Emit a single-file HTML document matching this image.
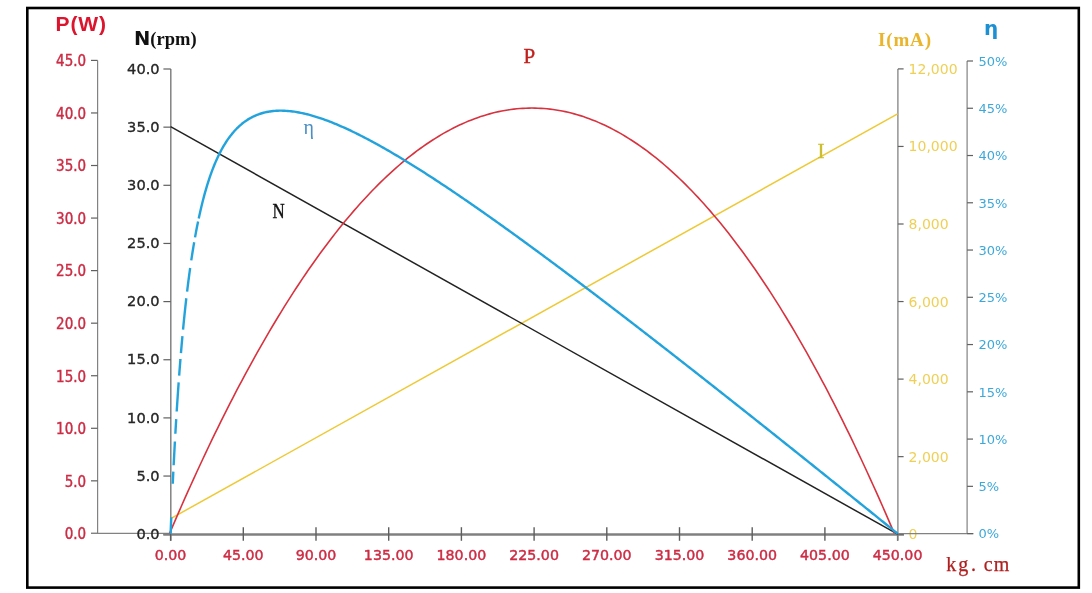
<!DOCTYPE html>
<html><head><meta charset="utf-8"><title>Motor performance curve</title><style>
html,body{margin:0;padding:0;background:#fff;}
svg{display:block;}
text{font-family:"DejaVu Sans","Liberation Sans",sans-serif;}
.pl{font-family:"DejaVu Sans Condensed","DejaVu Sans",sans-serif;font-size:15px;fill:#cc2c44;text-anchor:end;stroke:#cc2c44;stroke-width:0.4px;}
.nl{font-size:14.6px;fill:#262626;text-anchor:end;stroke:#262626;stroke-width:0.35px;}
.xl{font-size:14.2px;fill:#cc2c44;text-anchor:middle;stroke:#cc2c44;stroke-width:0.45px;}
.il{font-size:14px;fill:#efd055;}
.el{font-size:13px;fill:#3ca8da;}
.tP{font-family:"Liberation Sans",sans-serif;font-weight:bold;font-size:21px;fill:#dc142e;letter-spacing:0.9px;}
.tN{font-family:"DejaVu Sans",sans-serif;font-weight:bold;font-size:19.5px;fill:#111;}
.ser{font-family:"Liberation Serif",serif;font-weight:bold;font-size:18.5px;}
.tI{font-family:"Liberation Serif",serif;font-weight:bold;font-size:19px;fill:#eab52a;}
.tE{font-family:"DejaVu Sans",sans-serif;font-weight:bold;font-size:20px;fill:#1d8fd3;}
.cl{font-family:"Liberation Serif",serif;font-size:20px;stroke-width:0.35px;}
.kg{font-family:"Liberation Serif",serif;font-size:20px;fill:#b02020;text-anchor:middle;stroke:#b02020;stroke-width:0.25px;}
</style></head>
<body><svg width="1092" height="593" viewBox="0 0 1092 593">
<rect x="27.3" y="8" width="1051.5" height="579.6" fill="none" stroke="#000" stroke-width="2.6"/>
<line x1="97.6" y1="60.4" x2="97.6" y2="533.4" stroke="#828282" stroke-width="1.2"/>
<line x1="91" y1="533.40" x2="97.6" y2="533.40" stroke="#606060" stroke-width="1.2"/>
<text x="86.1" y="539.20" class="pl">0.0</text>
<line x1="91" y1="480.84" x2="97.6" y2="480.84" stroke="#606060" stroke-width="1.2"/>
<text x="86.1" y="486.64" class="pl">5.0</text>
<line x1="91" y1="428.29" x2="97.6" y2="428.29" stroke="#606060" stroke-width="1.2"/>
<text x="86.1" y="434.09" class="pl">10.0</text>
<line x1="91" y1="375.73" x2="97.6" y2="375.73" stroke="#606060" stroke-width="1.2"/>
<text x="86.1" y="381.53" class="pl">15.0</text>
<line x1="91" y1="323.18" x2="97.6" y2="323.18" stroke="#606060" stroke-width="1.2"/>
<text x="86.1" y="328.98" class="pl">20.0</text>
<line x1="91" y1="270.62" x2="97.6" y2="270.62" stroke="#606060" stroke-width="1.2"/>
<text x="86.1" y="276.42" class="pl">25.0</text>
<line x1="91" y1="218.07" x2="97.6" y2="218.07" stroke="#606060" stroke-width="1.2"/>
<text x="86.1" y="223.87" class="pl">30.0</text>
<line x1="91" y1="165.51" x2="97.6" y2="165.51" stroke="#606060" stroke-width="1.2"/>
<text x="86.1" y="171.31" class="pl">35.0</text>
<line x1="91" y1="112.96" x2="97.6" y2="112.96" stroke="#606060" stroke-width="1.2"/>
<text x="86.1" y="118.76" class="pl">40.0</text>
<line x1="91" y1="60.40" x2="97.6" y2="60.40" stroke="#606060" stroke-width="1.2"/>
<text x="86.1" y="66.20" class="pl">45.0</text>
<line x1="91" y1="533.4" x2="170.6" y2="533.4" stroke="#828282" stroke-width="1.2"/>
<line x1="170.8" y1="69.0" x2="170.8" y2="540.8" stroke="#828282" stroke-width="1.5"/>
<line x1="163.4" y1="534.20" x2="170.8" y2="534.20" stroke="#606060" stroke-width="1.2"/>
<text x="159.6" y="538.90" class="nl">0.0</text>
<line x1="163.4" y1="476.05" x2="170.8" y2="476.05" stroke="#606060" stroke-width="1.2"/>
<text x="159.6" y="480.75" class="nl">5.0</text>
<line x1="163.4" y1="417.90" x2="170.8" y2="417.90" stroke="#606060" stroke-width="1.2"/>
<text x="159.6" y="422.60" class="nl">10.0</text>
<line x1="163.4" y1="359.75" x2="170.8" y2="359.75" stroke="#606060" stroke-width="1.2"/>
<text x="159.6" y="364.45" class="nl">15.0</text>
<line x1="163.4" y1="301.60" x2="170.8" y2="301.60" stroke="#606060" stroke-width="1.2"/>
<text x="159.6" y="306.30" class="nl">20.0</text>
<line x1="163.4" y1="243.45" x2="170.8" y2="243.45" stroke="#606060" stroke-width="1.2"/>
<text x="159.6" y="248.15" class="nl">25.0</text>
<line x1="163.4" y1="185.30" x2="170.8" y2="185.30" stroke="#606060" stroke-width="1.2"/>
<text x="159.6" y="190.00" class="nl">30.0</text>
<line x1="163.4" y1="127.15" x2="170.8" y2="127.15" stroke="#606060" stroke-width="1.2"/>
<text x="159.6" y="131.85" class="nl">35.0</text>
<line x1="163.4" y1="69.00" x2="170.8" y2="69.00" stroke="#606060" stroke-width="1.2"/>
<text x="159.6" y="73.70" class="nl">40.0</text>
<line x1="163.3" y1="534.45" x2="904" y2="534.45" stroke="#808080" stroke-width="2.5"/>
<line x1="170.60" y1="534" x2="170.60" y2="540.8" stroke="#5e5e5e" stroke-width="1.4"/>
<text x="170.60" y="559.8" class="xl">0.00</text>
<line x1="243.30" y1="527.2" x2="243.30" y2="540.8" stroke="#5e5e5e" stroke-width="1.4"/>
<text x="243.30" y="559.8" class="xl">45.00</text>
<line x1="316.00" y1="527.2" x2="316.00" y2="540.8" stroke="#5e5e5e" stroke-width="1.4"/>
<text x="316.00" y="559.8" class="xl">90.00</text>
<line x1="388.70" y1="527.2" x2="388.70" y2="540.8" stroke="#5e5e5e" stroke-width="1.4"/>
<text x="388.70" y="559.8" class="xl">135.00</text>
<line x1="461.40" y1="527.2" x2="461.40" y2="540.8" stroke="#5e5e5e" stroke-width="1.4"/>
<text x="461.40" y="559.8" class="xl">180.00</text>
<line x1="534.10" y1="527.2" x2="534.10" y2="540.8" stroke="#5e5e5e" stroke-width="1.4"/>
<text x="534.10" y="559.8" class="xl">225.00</text>
<line x1="606.80" y1="527.2" x2="606.80" y2="540.8" stroke="#5e5e5e" stroke-width="1.4"/>
<text x="606.80" y="559.8" class="xl">270.00</text>
<line x1="679.50" y1="527.2" x2="679.50" y2="540.8" stroke="#5e5e5e" stroke-width="1.4"/>
<text x="679.50" y="559.8" class="xl">315.00</text>
<line x1="752.20" y1="527.2" x2="752.20" y2="540.8" stroke="#5e5e5e" stroke-width="1.4"/>
<text x="752.20" y="559.8" class="xl">360.00</text>
<line x1="824.90" y1="527.2" x2="824.90" y2="540.8" stroke="#5e5e5e" stroke-width="1.4"/>
<text x="824.90" y="559.8" class="xl">405.00</text>
<line x1="897.60" y1="534" x2="897.60" y2="540.8" stroke="#5e5e5e" stroke-width="1.4"/>
<text x="897.60" y="559.8" class="xl">450.00</text>
<line x1="897.9" y1="68.9" x2="897.9" y2="540.5" stroke="#828282" stroke-width="1.3"/>
<line x1="897.9" y1="534.20" x2="903.6" y2="534.20" stroke="#606060" stroke-width="1.2"/>
<text x="908.6" y="539.20" class="il">0</text>
<line x1="897.9" y1="456.65" x2="903.6" y2="456.65" stroke="#606060" stroke-width="1.2"/>
<text x="908.6" y="461.65" class="il">2,000</text>
<line x1="897.9" y1="379.10" x2="903.6" y2="379.10" stroke="#606060" stroke-width="1.2"/>
<text x="908.6" y="384.10" class="il">4,000</text>
<line x1="897.9" y1="301.55" x2="903.6" y2="301.55" stroke="#606060" stroke-width="1.2"/>
<text x="908.6" y="306.55" class="il">6,000</text>
<line x1="897.9" y1="224.00" x2="903.6" y2="224.00" stroke="#606060" stroke-width="1.2"/>
<text x="908.6" y="229.00" class="il">8,000</text>
<line x1="897.9" y1="146.45" x2="903.6" y2="146.45" stroke="#606060" stroke-width="1.2"/>
<text x="908.6" y="151.45" class="il">10,000</text>
<line x1="897.9" y1="68.90" x2="903.6" y2="68.90" stroke="#606060" stroke-width="1.2"/>
<text x="908.6" y="73.90" class="il">12,000</text>
<line x1="967.1" y1="61.0" x2="967.1" y2="533.6" stroke="#828282" stroke-width="1.2"/>
<line x1="897.9" y1="533.6" x2="973.5" y2="533.6" stroke="#828282" stroke-width="1.2"/>
<line x1="967.1" y1="533.60" x2="973" y2="533.60" stroke="#606060" stroke-width="1.2"/>
<text x="978.4" y="538.40" class="el">0%</text>
<line x1="967.1" y1="486.34" x2="973" y2="486.34" stroke="#606060" stroke-width="1.2"/>
<text x="978.4" y="491.14" class="el">5%</text>
<line x1="967.1" y1="439.08" x2="973" y2="439.08" stroke="#606060" stroke-width="1.2"/>
<text x="978.4" y="443.88" class="el">10%</text>
<line x1="967.1" y1="391.82" x2="973" y2="391.82" stroke="#606060" stroke-width="1.2"/>
<text x="978.4" y="396.62" class="el">15%</text>
<line x1="967.1" y1="344.56" x2="973" y2="344.56" stroke="#606060" stroke-width="1.2"/>
<text x="978.4" y="349.36" class="el">20%</text>
<line x1="967.1" y1="297.30" x2="973" y2="297.30" stroke="#606060" stroke-width="1.2"/>
<text x="978.4" y="302.10" class="el">25%</text>
<line x1="967.1" y1="250.04" x2="973" y2="250.04" stroke="#606060" stroke-width="1.2"/>
<text x="978.4" y="254.84" class="el">30%</text>
<line x1="967.1" y1="202.78" x2="973" y2="202.78" stroke="#606060" stroke-width="1.2"/>
<text x="978.4" y="207.58" class="el">35%</text>
<line x1="967.1" y1="155.52" x2="973" y2="155.52" stroke="#606060" stroke-width="1.2"/>
<text x="978.4" y="160.32" class="el">40%</text>
<line x1="967.1" y1="108.26" x2="973" y2="108.26" stroke="#606060" stroke-width="1.2"/>
<text x="978.4" y="113.06" class="el">45%</text>
<line x1="967.1" y1="61.00" x2="973" y2="61.00" stroke="#606060" stroke-width="1.2"/>
<text x="978.4" y="65.80" class="el">50%</text>
<line x1="170.60" y1="518.69" x2="897.60" y2="113.88" stroke="#eec935" stroke-width="1.5"/>
<line x1="170.60" y1="126.55" x2="897.60" y2="534.2" stroke="#222" stroke-width="1.5"/>
<path d="M169.60,533.40 L172.62,526.34 L175.64,519.34 L178.66,512.40 L181.68,505.52 L184.70,498.69 L187.72,491.93 L190.74,485.23 L193.76,478.58 L196.78,471.99 L199.80,465.47 L202.82,459.00 L205.83,452.59 L208.85,446.24 L211.87,439.95 L214.89,433.71 L217.91,427.54 L220.93,421.43 L223.95,415.37 L226.97,409.38 L229.99,403.44 L233.01,397.56 L236.03,391.74 L239.05,385.98 L242.07,380.28 L245.09,374.64 L248.11,369.06 L251.13,363.54 L254.15,358.07 L257.17,352.67 L260.19,347.32 L263.21,342.03 L266.23,336.81 L269.25,331.64 L272.27,326.53 L275.29,321.48 L278.30,316.48 L281.32,311.55 L284.34,306.68 L287.36,301.86 L290.38,297.11 L293.40,292.41 L296.42,287.77 L299.44,283.20 L302.46,278.68 L305.48,274.22 L308.50,269.82 L311.52,265.47 L314.54,261.19 L317.56,256.97 L320.58,252.80 L323.60,248.70 L326.62,244.65 L329.64,240.66 L332.66,236.74 L335.68,232.87 L338.70,229.06 L341.72,225.31 L344.74,221.61 L347.76,217.98 L350.77,214.41 L353.79,210.89 L356.81,207.44 L359.83,204.04 L362.85,200.70 L365.87,197.42 L368.89,194.20 L371.91,191.04 L374.93,187.94 L377.95,184.90 L380.97,181.92 L383.99,178.99 L387.01,176.13 L390.03,173.32 L393.05,170.57 L396.07,167.89 L399.09,165.26 L402.11,162.69 L405.13,160.18 L408.15,157.73 L411.17,155.33 L414.19,153.00 L417.21,150.73 L420.23,148.51 L423.25,146.35 L426.26,144.26 L429.28,142.22 L432.30,140.24 L435.32,138.32 L438.34,136.46 L441.36,134.66 L444.38,132.91 L447.40,131.23 L450.42,129.61 L453.44,128.04 L456.46,126.54 L459.48,125.09 L462.50,123.70 L465.52,122.37 L468.54,121.10 L471.56,119.89 L474.58,118.74 L477.60,117.64 L480.62,116.61 L483.64,115.64 L486.66,114.72 L489.68,113.86 L492.70,113.07 L495.71,112.33 L498.73,111.65 L501.75,111.03 L504.77,110.47 L507.79,109.97 L510.81,109.52 L513.83,109.14 L516.85,108.81 L519.87,108.55 L522.89,108.34 L525.91,108.19 L528.93,108.10 L531.95,108.07 L534.97,108.10 L537.99,108.19 L541.01,108.34 L544.03,108.55 L547.05,108.81 L550.07,109.14 L553.09,109.52 L556.11,109.97 L559.13,110.47 L562.15,111.03 L565.17,111.65 L568.18,112.33 L571.20,113.07 L574.22,113.86 L577.24,114.72 L580.26,115.64 L583.28,116.61 L586.30,117.64 L589.32,118.74 L592.34,119.89 L595.36,121.10 L598.38,122.37 L601.40,123.70 L604.42,125.09 L607.44,126.54 L610.46,128.04 L613.48,129.61 L616.50,131.23 L619.52,132.91 L622.54,134.66 L625.56,136.46 L628.58,138.32 L631.60,140.24 L634.62,142.22 L637.64,144.26 L640.65,146.35 L643.67,148.51 L646.69,150.73 L649.71,153.00 L652.73,155.33 L655.75,157.73 L658.77,160.18 L661.79,162.69 L664.81,165.26 L667.83,167.89 L670.85,170.57 L673.87,173.32 L676.89,176.13 L679.91,178.99 L682.93,181.92 L685.95,184.90 L688.97,187.94 L691.99,191.04 L695.01,194.20 L698.03,197.42 L701.05,200.70 L704.07,204.04 L707.09,207.44 L710.11,210.89 L713.12,214.41 L716.14,217.98 L719.16,221.61 L722.18,225.31 L725.20,229.06 L728.22,232.87 L731.24,236.74 L734.26,240.66 L737.28,244.65 L740.30,248.70 L743.32,252.80 L746.34,256.97 L749.36,261.19 L752.38,265.47 L755.40,269.82 L758.42,274.22 L761.44,278.68 L764.46,283.20 L767.48,287.77 L770.50,292.41 L773.52,297.11 L776.54,301.86 L779.56,306.68 L782.58,311.55 L785.60,316.48 L788.61,321.48 L791.63,326.53 L794.65,331.64 L797.67,336.81 L800.69,342.03 L803.71,347.32 L806.73,352.67 L809.75,358.07 L812.77,363.54 L815.79,369.06 L818.81,374.64 L821.83,380.28 L824.85,385.98 L827.87,391.74 L830.89,397.56 L833.91,403.44 L836.93,409.38 L839.95,415.37 L842.97,421.43 L845.99,427.54 L849.01,433.71 L852.03,439.95 L855.05,446.24 L858.06,452.59 L861.08,459.00 L864.10,465.47 L867.12,471.99 L870.14,478.58 L873.16,485.23 L876.18,491.93 L879.20,498.69 L882.22,505.52 L885.24,512.40 L888.26,519.34 L891.28,526.34 L894.30,533.40" fill="none" stroke="#d8323e" stroke-width="1.6"/>
<path d="M170.60,533.60 L170.66,531.97 L170.73,530.34 L170.79,528.73 L170.86,527.12 L170.92,525.52 L170.99,523.93 L171.05,522.35 L171.12,520.78 L171.18,519.21 L171.25,517.66 L171.26,517.27 M172.75,483.75 L172.83,482.05 L172.91,480.35 L172.99,478.66 L173.07,476.99 L173.15,475.32 L173.23,473.67 L173.31,472.02 L173.33,471.69 M173.65,465.23 L173.73,463.64 L173.81,462.05 L173.90,460.48 L173.98,458.92 L174.06,457.37 L174.14,455.83 L174.22,454.29 L174.30,452.77 L174.38,451.25 L174.46,449.75 L174.56,447.95 L174.66,446.17 L174.75,444.40 L174.85,442.64 L174.91,441.48 M175.35,433.77 L175.45,432.09 L175.54,430.42 L175.64,428.76 L175.74,427.12 L175.83,425.48 L175.93,423.86 L176.03,422.25 L176.13,420.65 L176.22,419.06 M176.69,411.53 L176.79,410.00 L176.88,408.49 L176.98,406.98 L177.09,405.23 L177.21,403.50 L177.32,401.79 L177.43,400.08 L177.55,398.39 L177.66,396.71 L177.77,395.05 L177.89,393.39 L178.00,391.75 L178.11,390.13 L178.23,388.51 L178.34,386.91 L178.45,385.32 L178.56,383.74 L178.66,382.40 M179.16,375.59 L179.28,374.08 L179.40,372.37 L179.53,370.68 L179.66,369.00 L179.79,367.33 L179.92,365.68 L180.05,364.04 L180.18,362.42 L180.31,360.81 L180.44,359.21 L180.45,359.01 M180.94,353.14 L181.07,351.60 L181.20,350.07 L181.33,348.56 L181.46,347.06 L181.60,345.39 L181.75,343.73 L181.89,342.09 L182.04,340.46 L182.18,338.84 L182.33,337.24 L182.43,336.18 M183.04,329.62 L183.19,328.10 L183.33,326.59 L183.48,325.09 L183.64,323.45 L183.80,321.82 L183.96,320.20 L184.12,318.60 L184.28,317.02 L184.45,315.45 L184.61,313.89 L184.77,312.35 L184.93,310.82 L185.09,309.31 L185.25,307.81 L185.43,306.17 L185.61,304.56 L185.79,302.95 L185.96,301.37 L186.14,299.80 L186.32,298.24 M187.09,291.64 L187.29,290.03 L187.48,288.43 L187.68,286.86 L187.87,285.30 L188.06,283.76 L188.26,282.23 L188.45,280.72 L188.65,279.22 L188.86,277.62 L189.07,276.03 L189.28,274.46 L189.49,272.91 L189.70,271.38 L189.91,269.86 L190.12,268.36 L190.16,268.01 M191.26,260.44 L191.49,258.93 L191.72,257.44 L191.96,255.86 L192.20,254.30 L192.44,252.75 L192.68,251.23 L192.93,249.73 L193.17,248.24 L193.43,246.67 L193.69,245.12 L193.94,243.60 L194.19,242.18 M195.03,237.40 L195.30,235.88 L195.58,234.37 L195.85,232.89 L196.14,231.34 L196.43,229.81 L196.72,228.30 L197.01,226.81 L197.32,225.27 L197.63,223.74 L197.94,222.23 L198.08,221.53 M198.73,218.44 L199.05,216.94 L199.37,215.45 L199.71,213.91 L200.05,212.40 L200.39,210.91 L200.73,209.44 L201.09,207.92 L201.44,206.43 L201.80,204.96 L202.17,203.45 L202.54,201.96 L202.91,200.50 L203.31,198.94 L203.72,197.40 L204.12,195.89 L204.53,194.40 L204.93,192.94 L205.74,190.10 L206.55,187.35 L207.35,184.69 L208.16,182.11 L208.97,179.63 L209.78,177.22 L210.58,174.89 L211.39,172.63 L212.20,170.45 L213.01,168.34 L213.82,166.29 L214.62,164.31 L215.43,162.39 L216.24,160.54 L217.05,158.74 L217.85,156.99 L218.66,155.30 L219.47,153.66 L220.28,152.08 L221.09,150.54 L221.89,149.05 L222.70,147.61 L223.51,146.21 L224.32,144.85 L225.12,143.54 L225.93,142.26 L227.14,140.42 L228.36,138.67 L229.57,137.00 L230.78,135.40 L231.99,133.88 L233.20,132.43 L234.41,131.05 L235.63,129.73 L236.84,128.48 L238.05,127.29 L239.26,126.15 L240.47,125.07 L241.68,124.04 L242.90,123.06 L244.11,122.14 L245.72,120.97 L247.34,119.89 L248.95,118.89 L250.57,117.96 L252.19,117.10 L253.80,116.30 L255.42,115.57 L257.03,114.90 L258.65,114.29 L260.26,113.73 L261.88,113.23 L263.49,112.77 L265.11,112.37 L266.73,112.02 L268.34,111.71 L269.96,111.44 L271.57,111.21 L273.19,111.03 L274.80,110.88 L276.42,110.77 L278.03,110.70 L279.65,110.66 L281.27,110.66 L282.88,110.68 L284.50,110.74 L286.11,110.83 L287.73,110.94 L289.34,111.09 L290.96,111.26 L292.57,111.46 L294.19,111.68 L295.81,111.93 L297.42,112.20 L299.04,112.49 L300.65,112.81 L302.27,113.14 L303.88,113.50 L305.50,113.88 L307.11,114.28 L308.73,114.69 L310.35,115.13 L311.96,115.58 L313.58,116.05 L315.19,116.54 L316.81,117.04 L318.42,117.56 L320.04,118.10 L321.65,118.65 L323.27,119.21 L324.89,119.79 L326.50,120.38 L328.12,120.99 L329.73,121.61 L331.35,122.24 L332.96,122.88 L334.58,123.54 L336.19,124.21 L337.81,124.89 L339.43,125.58 L341.04,126.28 L342.66,126.99 L344.27,127.71 L345.89,128.45 L347.50,129.19 L349.12,129.94 L350.73,130.70 L352.35,131.47 L353.97,132.25 L355.58,133.04 L357.20,133.84 L358.81,134.65 L360.43,135.46 L362.04,136.28 L363.66,137.11 L365.27,137.95 L366.89,138.79 L368.51,139.65 L370.12,140.51 L371.74,141.37 L373.35,142.25 L374.97,143.13 L376.58,144.01 L378.20,144.91 L379.81,145.81 L381.43,146.71 L383.05,147.62 L384.66,148.54 L386.28,149.46 L387.89,150.39 L389.51,151.33 L391.12,152.27 L392.74,153.21 L394.35,154.16 L395.97,155.12 L397.59,156.08 L399.20,157.05 L400.82,158.02 L402.43,158.99 L404.05,159.97 L405.66,160.96 L407.28,161.95 L408.89,162.94 L410.51,163.94 L412.13,164.94 L413.74,165.95 L415.36,166.96 L416.97,167.98 L418.59,168.99 L420.20,170.02 L421.82,171.04 L423.43,172.07 L425.05,173.11 L426.67,174.14 L428.28,175.19 L429.90,176.23 L431.51,177.28 L433.13,178.33 L434.74,179.38 L436.36,180.44 L437.97,181.50 L439.59,182.57 L441.21,183.64 L442.82,184.71 L444.44,185.78 L446.05,186.86 L447.67,187.94 L449.28,189.02 L450.90,190.10 L452.51,191.19 L454.13,192.28 L455.75,193.38 L457.36,194.47 L458.98,195.57 L460.59,196.67 L462.21,197.78 L463.82,198.88 L465.44,199.99 L467.05,201.10 L468.67,202.21 L470.29,203.33 L471.90,204.45 L473.52,205.57 L475.13,206.69 L476.75,207.82 L478.36,208.94 L479.98,210.07 L481.59,211.20 L483.21,212.34 L484.83,213.47 L486.44,214.61 L488.06,215.75 L489.67,216.89 L491.29,218.03 L492.90,219.18 L494.52,220.33 L496.13,221.48 L497.75,222.63 L499.37,223.78 L500.98,224.93 L502.60,226.09 L504.21,227.25 L505.83,228.41 L507.44,229.57 L509.06,230.73 L510.67,231.90 L512.29,233.06 L513.91,234.23 L515.52,235.40 L517.14,236.57 L518.75,237.74 L520.37,238.92 L521.98,240.09 L523.60,241.27 L525.21,242.45 L526.43,243.33 L527.64,244.22 L528.85,245.11 L530.06,245.99 L531.27,246.88 L532.48,247.77 L533.70,248.66 L534.91,249.55 L536.12,250.44 L537.33,251.33 L538.54,252.23 L539.75,253.12 L540.97,254.01 L542.18,254.91 L543.39,255.80 L544.60,256.70 L545.81,257.60 L547.02,258.49 L548.24,259.39 L549.45,260.29 L550.66,261.19 L551.87,262.09 L553.08,262.99 L554.29,263.89 L555.51,264.80 L556.72,265.70 L557.93,266.60 L559.14,267.51 L560.35,268.41 L561.56,269.32 L562.78,270.22 L563.99,271.13 L565.20,272.04 L566.41,272.94 L567.62,273.85 L568.83,274.76 L570.05,275.67 L571.26,276.58 L572.47,277.49 L573.68,278.40 L574.89,279.32 L576.10,280.23 L577.32,281.14 L578.53,282.05 L579.74,282.97 L580.95,283.88 L582.16,284.80 L583.37,285.71 L584.59,286.63 L585.80,287.55 L587.01,288.46 L588.22,289.38 L589.43,290.30 L590.64,291.22 L591.86,292.14 L593.07,293.06 L594.28,293.98 L595.49,294.90 L596.70,295.82 L597.91,296.74 L599.13,297.67 L600.34,298.59 L601.55,299.51 L602.76,300.44 L603.97,301.36 L605.18,302.28 L606.40,303.21 L607.61,304.13 L608.82,305.06 L610.03,305.99 L611.24,306.91 L612.45,307.84 L613.67,308.77 L614.88,309.70 L616.09,310.63 L617.30,311.55 L618.51,312.48 L619.72,313.41 L620.94,314.34 L622.15,315.27 L623.36,316.21 L624.57,317.14 L625.78,318.07 L626.99,319.00 L628.21,319.93 L629.42,320.87 L630.63,321.80 L631.84,322.73 L633.05,323.67 L634.26,324.60 L635.48,325.54 L636.69,326.47 L637.90,327.41 L639.11,328.35 L640.32,329.28 L641.53,330.22 L642.75,331.16 L643.96,332.09 L645.17,333.03 L646.38,333.97 L647.59,334.91 L648.80,335.85 L650.02,336.79 L651.23,337.73 L652.44,338.67 L653.65,339.61 L654.86,340.55 L656.07,341.49 L657.29,342.43 L658.50,343.37 L659.71,344.31 L660.92,345.26 L662.13,346.20 L663.34,347.14 L664.56,348.09 L665.77,349.03 L666.98,349.97 L668.19,350.92 L669.40,351.86 L670.61,352.81 L671.83,353.75 L673.04,354.70 L674.25,355.64 L675.46,356.59 L676.67,357.54 L677.88,358.48 L679.10,359.43 L680.31,360.38 L681.52,361.33 L682.73,362.27 L683.94,363.22 L685.15,364.17 L686.37,365.12 L687.58,366.07 L688.79,367.02 L690.00,367.97 L691.21,368.92 L692.42,369.87 L693.64,370.82 L694.85,371.77 L696.06,372.72 L697.27,373.67 L698.48,374.62 L699.69,375.57 L700.91,376.52 L702.12,377.48 L703.33,378.43 L704.54,379.38 L705.75,380.34 L706.96,381.29 L708.18,382.24 L709.39,383.20 L710.60,384.15 L711.81,385.10 L713.02,386.06 L714.23,387.01 L715.45,387.97 L716.66,388.92 L717.87,389.88 L719.08,390.83 L720.29,391.79 L721.50,392.75 L722.72,393.70 L723.93,394.66 L725.14,395.62 L726.35,396.57 L727.56,397.53 L728.77,398.49 L729.99,399.45 L731.20,400.40 L732.41,401.36 L733.62,402.32 L734.83,403.28 L736.04,404.24 L737.26,405.20 L738.47,406.16 L739.68,407.12 L740.89,408.08 L742.10,409.04 L743.31,410.00 L744.53,410.96 L745.74,411.92 L746.95,412.88 L748.16,413.84 L749.37,414.80 L750.58,415.76 L751.80,416.72 L753.01,417.68 L754.22,418.65 L755.43,419.61 L756.64,420.57 L757.85,421.53 L759.07,422.50 L760.28,423.46 L761.49,424.42 L762.70,425.39 L763.91,426.35 L765.12,427.31 L766.34,428.28 L767.55,429.24 L768.76,430.20 L769.97,431.17 L771.18,432.13 L772.39,433.10 L773.61,434.06 L774.82,435.03 L776.03,435.99 L777.24,436.96 L778.45,437.92 L779.66,438.89 L780.88,439.86 L782.09,440.82 L783.30,441.79 L784.51,442.76 L785.72,443.72 L786.93,444.69 L788.15,445.66 L789.36,446.62 L790.57,447.59 L791.78,448.56 L792.99,449.53 L794.20,450.49 L795.42,451.46 L796.63,452.43 L797.84,453.40 L799.05,454.37 L800.26,455.34 L801.47,456.30 L802.69,457.27 L803.90,458.24 L805.11,459.21 L806.32,460.18 L807.53,461.15 L808.74,462.12 L809.96,463.09 L811.17,464.06 L812.38,465.03 L813.59,466.00 L814.80,466.97 L816.01,467.94 L817.23,468.91 L818.44,469.88 L819.65,470.85 L820.86,471.83 L822.07,472.80 L823.28,473.77 L824.50,474.74 L825.71,475.71 L826.92,476.68 L828.13,477.66 L829.34,478.63 L830.55,479.60 L831.77,480.57 L832.98,481.55 L834.19,482.52 L835.40,483.49 L836.61,484.46 L837.82,485.44 L839.04,486.41 L840.25,487.38 L841.46,488.36 L842.67,489.33 L843.88,490.31 L845.09,491.28 L846.31,492.25 L847.52,493.23 L848.73,494.20 L849.94,495.18 L851.15,496.15 L852.36,497.13 L853.58,498.10 L854.79,499.08 L856.00,500.05 L857.21,501.03 L858.42,502.00 L859.63,502.98 L860.85,503.95 L862.06,504.93 L863.27,505.90 L864.48,506.88 L865.69,507.86 L866.90,508.83 L868.12,509.81 L869.33,510.79 L870.54,511.76 L871.75,512.74 L872.96,513.71 L874.17,514.69 L875.39,515.67 L876.60,516.65 L877.81,517.62 L879.02,518.60 L880.23,519.58 L881.44,520.56 L882.66,521.53 L883.87,522.51 L885.08,523.49 L886.29,524.47 L887.50,525.44 L888.71,526.42 L889.93,527.40 L891.14,528.38 L892.35,529.36 L893.56,530.34 L894.77,531.32 L895.98,532.29 L897.20,533.27 L897.60,533.60" fill="none" stroke="#23a3dc" stroke-width="2.4" stroke-linejoin="round"/>
<text x="55.5" y="30.8" class="tP">P(W)</text>
<text x="134" y="45.2" class="tN">N<tspan class="ser">(rpm)</tspan></text>
<text x="878" y="46" class="tI" textLength="53" lengthAdjust="spacing">I(mA)</text>
<text x="984" y="35" class="tE">η</text>
<text x="523.6" y="62.7" class="cl" fill="#c0201c" stroke="#c0201c" style="font-size:21px">P</text>
<text x="303.5" y="134" class="cl" fill="#4b8fc4">η</text>
<text x="272.4" y="218" class="cl" fill="#111" stroke="#111" textLength="12.2" lengthAdjust="spacingAndGlyphs">N</text>
<text x="817.6" y="157.6" class="cl" fill="#cbbf30" stroke="#cbbf30" style="font-size:21px">I</text>
<text x="951.2 963.2 973.6 988.1 1001.6" y="570.7" class="kg">kg.cm</text>
</svg></body></html>
